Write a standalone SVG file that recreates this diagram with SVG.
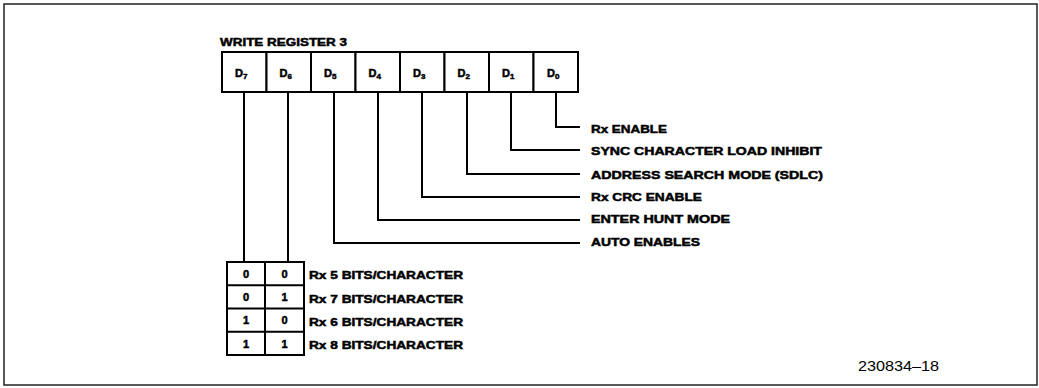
<svg xmlns="http://www.w3.org/2000/svg" width="1039" height="388" viewBox="0 0 1039 388">
<style>
.frame{fill:none;stroke:#222;stroke-width:1.5}
.box{fill:#fff;stroke:#000;stroke-width:2}
.wire{fill:none;stroke:#000;stroke-width:2}
.lbl{font-family:"Liberation Sans",Arial,sans-serif;font-weight:bold;font-size:11.5px;fill:#000;stroke:#000;stroke-width:0.5}
.bit{font-family:"Liberation Sans",Arial,sans-serif;font-weight:bold;font-size:11px;fill:#000;stroke:#000;stroke-width:0.5}
.num{font-family:"Liberation Sans",Arial,sans-serif;font-size:14px;fill:#000}
</style>
<rect class="frame" x="4" y="4" width="1033" height="381"/>
<text class="lbl" x="220" y="46" textLength="127" lengthAdjust="spacingAndGlyphs">WRITE REGISTER 3</text>
<g id="register">
<g id="bit-D7"><rect class="box" x="222" y="52" width="44.5" height="40"/><text class="bit" x="235" y="77">D<tspan font-size="8" dy="2">7</tspan></text></g>
<g id="bit-D6"><rect class="box" x="266.5" y="52" width="44.5" height="40"/><text class="bit" x="279.5" y="77">D<tspan font-size="8" dy="2">6</tspan></text></g>
<g id="bit-D5"><rect class="box" x="311" y="52" width="44.5" height="40"/><text class="bit" x="324" y="77">D<tspan font-size="8" dy="2">5</tspan></text></g>
<g id="bit-D4"><rect class="box" x="355.5" y="52" width="44.5" height="40"/><text class="bit" x="368.5" y="77">D<tspan font-size="8" dy="2">4</tspan></text></g>
<g id="bit-D3"><rect class="box" x="400" y="52" width="44.5" height="40"/><text class="bit" x="413" y="77">D<tspan font-size="8" dy="2">3</tspan></text></g>
<g id="bit-D2"><rect class="box" x="444.5" y="52" width="44.5" height="40"/><text class="bit" x="457.5" y="77">D<tspan font-size="8" dy="2">2</tspan></text></g>
<g id="bit-D1"><rect class="box" x="489" y="52" width="44.5" height="40"/><text class="bit" x="502" y="77">D<tspan font-size="8" dy="2">1</tspan></text></g>
<g id="bit-D0"><rect class="box" x="533.5" y="52" width="44.5" height="40"/><text class="bit" x="547" y="77">D<tspan font-size="8" dy="2">0</tspan></text></g>
</g>
<g id="connectors">
<path class="wire" d="M244 92V262"/>
<path class="wire" d="M288 92V262"/>
<path class="wire" d="M334 92V243H580"/>
<path class="wire" d="M378 92V220H580"/>
<path class="wire" d="M422 92V197H580"/>
<path class="wire" d="M467 92V174H580"/>
<path class="wire" d="M511 92V150H580"/>
<path class="wire" d="M556 92V127H580"/>
</g>
<g id="labels">
<text class="lbl" x="591" y="133" textLength="76" lengthAdjust="spacingAndGlyphs">Rx ENABLE</text>
<text class="lbl" x="591" y="155" textLength="231" lengthAdjust="spacingAndGlyphs">SYNC CHARACTER LOAD INHIBIT</text>
<text class="lbl" x="591" y="179" textLength="232" lengthAdjust="spacingAndGlyphs">ADDRESS SEARCH MODE (SDLC)</text>
<text class="lbl" x="591" y="201" textLength="111" lengthAdjust="spacingAndGlyphs">Rx CRC ENABLE</text>
<text class="lbl" x="591" y="223" textLength="139" lengthAdjust="spacingAndGlyphs">ENTER HUNT MODE</text>
<text class="lbl" x="591" y="246" textLength="109" lengthAdjust="spacingAndGlyphs">AUTO ENABLES</text>
</g>
<g id="table">
<rect class="box" x="227" y="262" width="77" height="93"/>
<path class="wire" d="M265 262V355M227 285.25H304M227 308.5H304M227 331.75H304"/>
<g text-anchor="middle">
<text class="bit" x="246" y="277.5">0</text><text class="bit" x="284.5" y="277.5">0</text>
<text class="bit" x="246" y="301">0</text><text class="bit" x="284.5" y="301">1</text>
<text class="bit" x="246" y="324">1</text><text class="bit" x="284.5" y="324">0</text>
<text class="bit" x="246" y="347.5">1</text><text class="bit" x="284.5" y="347.5">1</text>
</g>
<text class="lbl" x="309" y="279" textLength="154" lengthAdjust="spacingAndGlyphs">Rx 5 BITS/CHARACTER</text>
<text class="lbl" x="309" y="303" textLength="154" lengthAdjust="spacingAndGlyphs">Rx 7 BITS/CHARACTER</text>
<text class="lbl" x="309" y="326" textLength="154" lengthAdjust="spacingAndGlyphs">Rx 6 BITS/CHARACTER</text>
<text class="lbl" x="309" y="349" textLength="154" lengthAdjust="spacingAndGlyphs">Rx 8 BITS/CHARACTER</text>
</g>
<text class="num" x="858" y="371" textLength="81" lengthAdjust="spacingAndGlyphs">230834–18</text>
</svg>
